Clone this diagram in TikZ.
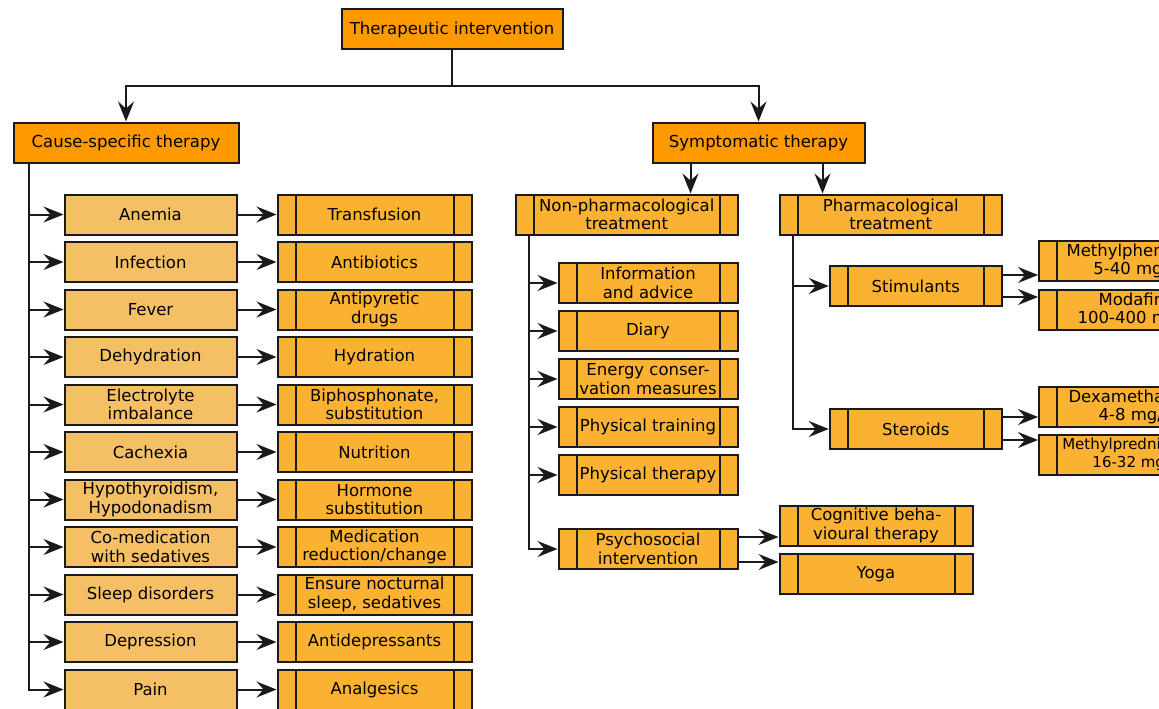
\documentclass[tikz,border=0pt]{standalone}
\usepackage{fontspec}
\setmainfont{DejaVu Sans}
\usetikzlibrary{positioning,arrows.meta,calc}
\definecolor{hdorange}{RGB}{255,153,0}
\definecolor{causeorange}{RGB}{245,191,102}
\definecolor{procorange}{RGB}{251,178,51}
\definecolor{lndark}{RGB}{26,26,26}
\tikzset{
  hd/.style={draw=lndark,line width=2pt,fill=hdorange,align=center,
    minimum height=40pt,inner sep=1pt},
  cs/.style={draw=lndark,line width=2pt,fill=causeorange,align=center,
    minimum width=172pt,minimum height=40pt,inner sep=1pt},
  pr/.style={draw=lndark,line width=2pt,fill=procorange,align=center,
    minimum width=194pt,minimum height=40pt,inner sep=1pt,
    path picture={\draw[lndark,line width=2pt]
      ([xshift=18pt]path picture bounding box.south west)--([xshift=18pt]path picture bounding box.north west)
      ([xshift=-18pt]path picture bounding box.south east)--([xshift=-18pt]path picture bounding box.north east);}},
  fl/.style={-{Stealth[length=20pt,width=16pt,inset=7pt]},line width=2pt,lndark},
}

\begin{document}
\begin{tikzpicture}[x=1pt,y=-1pt,every node/.style={font=\fontsize{16.5}{18.5}\selectfont}]
\useasboundingbox (0,0) rectangle (1159,709);
\clip (0,0) rectangle (1159,709);
\fill[white] (0,0) rectangle (1159,709);
% top levels
\node[hd,minimum width=221pt] (ti) at (452,29.5) {Therapeutic intervention};
\node[hd,minimum width=225pt] (cst) at (126,142.5) {Cause-specific therapy};
\node[hd,minimum width=212pt] (sym) at (758.5,142.5) {Symptomatic therapy};
\coordinate (jn) at (452,86);
\draw[fl](ti.south)--(jn)-|(cst.north);\draw[fl](jn)-|(sym.north);
% causes and their treatment
\node[cs] (c1) at (150.5,214.5) {Anemia};
\node[cs,below=5.5pt of c1] (c2) {Infection};
\node[cs,below=5.5pt of c2] (c3) {Fever};
\node[cs,below=5.5pt of c3] (c4) {Dehydration};
\node[cs,below=5.5pt of c4] (c5) {Electrolyte\\imbalance};
\node[cs,below=5.5pt of c5] (c6) {Cachexia};
\node[cs,below=5.5pt of c6] (c7) {Hypothyroidism,\\Hypodonadism};
\node[cs,below=5.5pt of c7] (c8) {Co-medication\\with sedatives};
\node[cs,below=5.5pt of c8] (c9) {Sleep disorders};
\node[cs,below=5.5pt of c9] (c10) {Depression};
\node[cs,below=5.5pt of c10] (c11) {Pain};
\node[pr,right=39pt of c1] (t1) {Transfusion};
\node[pr,right=39pt of c2] (t2) {Antibiotics};
\node[pr,right=39pt of c3] (t3) {Antipyretic\\drugs};
\node[pr,right=39pt of c4] (t4) {Hydration};
\node[pr,right=39pt of c5] (t5) {Biphosphonate,\\substitution};
\node[pr,right=39pt of c6] (t6) {Nutrition};
\node[pr,right=39pt of c7] (t7) {Hormone\\substitution};
\node[pr,right=39pt of c8] (t8) {Medication\\reduction/change};
\node[pr,right=39pt of c9] (t9) {Ensure nocturnal\\sleep, sedatives};
\node[pr,right=39pt of c10] (t10) {Antidepressants};
\node[pr,right=39pt of c11] (t11) {Analgesics};
\coordinate (sp) at ([xshift=16pt]cst.south west);
\draw[fl](sp)|-(c11);
\draw[fl](sp|-c1)--(c1);\draw[fl](sp|-c2)--(c2);\draw[fl](sp|-c3)--(c3);\draw[fl](sp|-c4)--(c4);
\draw[fl](sp|-c5)--(c5);\draw[fl](sp|-c6)--(c6);\draw[fl](sp|-c7)--(c7);\draw[fl](sp|-c8)--(c8);
\draw[fl](sp|-c9)--(c9);\draw[fl](sp|-c10)--(c10);
\draw[fl](c1)--(t1);\draw[fl](c2)--(t2);\draw[fl](c3)--(t3);\draw[fl](c4)--(t4);\draw[fl](c5)--(t5);
\draw[fl](c6)--(t6);\draw[fl](c7)--(t7);\draw[fl](c8)--(t8);\draw[fl](c9)--(t9);\draw[fl](c10)--(t10);
\draw[fl](c11)--(t11);
% symptomatic branch
\node[pr,minimum width=222pt] (np) at (626.7,214.5) {Non-pharmacological\\treatment};
\node[pr,minimum width=222pt] (ph) at (890.8,214.5) {Pharmacological\\treatment};
\draw[fl]([xshift=-68pt]sym.south)--([xshift=-68pt]sym.south|-np.north);
\draw[fl]([xshift=64pt]sym.south)--([xshift=64pt]sym.south|-ph.north);
\node[pr,minimum width=179pt] (n1) at (648,283) {Information\\and advice};
\node[pr,minimum width=179pt,below=6pt of n1] (n2) {Diary};
\node[pr,minimum width=179pt,below=6pt of n2] (n3) {Energy conser-\\vation measures};
\node[pr,minimum width=179pt,below=6pt of n3] (n4) {Physical training};
\node[pr,minimum width=179pt,below=6pt of n4] (n5) {Physical therapy};
\node[pr,minimum width=179pt] (psy) at (648,549) {Psychosocial\\intervention};
\node[pr,minimum width=193pt] (cb) at (876,525.5) {Cognitive beha-\\vioural therapy};
\node[pr,minimum width=193pt,below=6.5pt of cb] (yo) {Yoga};
\coordinate (sp2) at ([xshift=14pt]np.south west);
\draw[fl](sp2)|-(psy);
\draw[fl](sp2|-n1)--(n1);\draw[fl](sp2|-n2)--(n2);\draw[fl](sp2|-n3)--(n3);
\draw[fl](sp2|-n4)--(n4);\draw[fl](sp2|-n5)--(n5);
\draw[fl]([yshift=12pt]psy.east)--([yshift=12pt]psy.east-|cb.west);
\draw[fl]([yshift=-13pt]psy.east)--([yshift=-13pt]psy.east-|yo.west);
\node[pr,minimum width=172pt] (st) at (915.8,286) {Stimulants};
\node[pr,minimum width=172pt] (sr) at (915.8,429) {Steroids};
\coordinate (sp3) at ([xshift=14pt]ph.south west);
\draw[fl](sp3)|-(sr);\draw[fl](sp3|-st)--(st);
\node[pr] (d1) at (1136,261) {Methylphenidate\\5-40 mg/d};
\node[pr] (d2) at (1136,310) {Modafinil\\100-400 mg/d};
\node[pr] (d3) at (1136,407) {Dexamethasone\\4-8 mg/d};
\node[pr,font=\fontsize{15}{18.5}\selectfont] (d4) at (1136,454.5) {Methylprednisolone\\16-32 mg/d};
\draw[fl]([yshift=11pt]st.east)--([yshift=11pt]st.east-|d1.west);
\draw[fl]([yshift=-11pt]st.east)--([yshift=-11pt]st.east-|d2.west);
\draw[fl]([yshift=12pt]sr.east)--([yshift=12pt]sr.east-|d3.west);
\draw[fl]([yshift=-11pt]sr.east)--([yshift=-11pt]sr.east-|d4.west);
\end{tikzpicture}
\end{document}
